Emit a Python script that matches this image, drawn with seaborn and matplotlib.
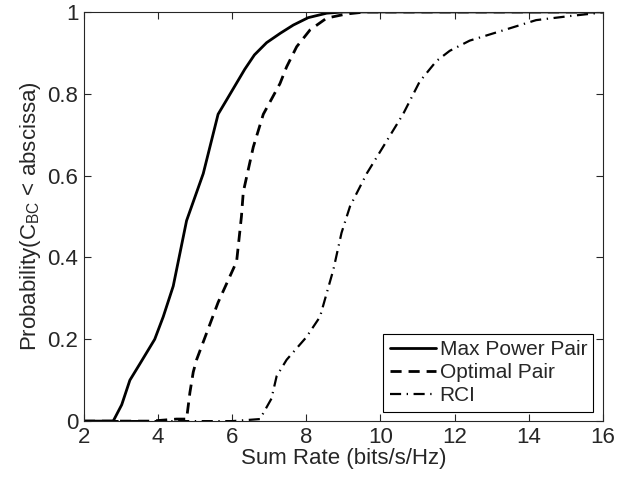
import numpy as np
import pandas as pd
import seaborn as sns
import matplotlib.pyplot as plt

# CDF points
max_x = [2.0, 2.79, 3.02, 3.24, 3.51, 3.91, 4.14, 4.41, 4.77, 5.22, 5.62, 5.85, 6.34, 6.6, 6.93, 7.3, 7.65, 8.05, 8.55, 9.0, 16.0]
max_y = [0.0, 0.0, 0.04, 0.10, 0.14, 0.20, 0.255, 0.33, 0.49, 0.605, 0.75, 0.785, 0.86, 0.895, 0.925, 0.948, 0.968, 0.986, 0.997, 1.0, 1.0]

opt_x = [2.0, 3.8, 4.5, 4.77, 4.86, 4.95, 5.04, 5.62, 6.12, 6.25, 6.30, 6.57, 6.84, 7.29, 7.47, 7.74, 8.1, 8.55, 9.08, 9.6, 16.0]
opt_y = [0.0, 0.0, 0.005, 0.005, 0.07, 0.12, 0.15, 0.29, 0.39, 0.50, 0.56, 0.67, 0.75, 0.825, 0.866, 0.915, 0.956, 0.985, 0.995, 1.0, 1.0]

rci_x = [2.0, 6.0, 6.75, 7.06, 7.2, 7.47, 8.0, 8.37, 8.73, 8.95, 9.18, 9.63, 10.07, 10.61, 11.06, 11.51, 11.87, 12.41, 13.31, 14.2, 15.11, 15.92, 16.0]
rci_y = [0.0, 0.0, 0.005, 0.055, 0.11, 0.15, 0.205, 0.255, 0.37, 0.46, 0.525, 0.605, 0.67, 0.75, 0.83, 0.88, 0.905, 0.93, 0.955, 0.98, 0.99, 0.998, 1.0]

labels = ["Max Power Pair", "Optimal Pair", "RCI"]

sns.set_style("ticks")
plt.rcParams['font.family'] = ['Liberation Sans', 'DejaVu Sans']
plt.rcParams['mathtext.fontset'] = 'custom'
plt.rcParams['mathtext.rm'] = 'Liberation Sans'
plt.rcParams['mathtext.it'] = 'Liberation Sans'

fig = plt.figure(figsize=(6.17, 4.78), dpi=100)
ax = fig.add_axes([0.136, 0.119, 0.841, 0.856])

sns.lineplot(x=max_x, y=max_y, ax=ax, color='black', lw=2, label=labels[0])
sns.lineplot(x=opt_x, y=opt_y, ax=ax, color='black', lw=2, dashes=(4, 2.5), label=labels[1])
sns.lineplot(x=rci_x, y=rci_y, ax=ax, color='black', lw=1.6, dashes=(5, 2.5, 0.6, 2.5), label=labels[2])

ax.set_xlim(2, 16)
ax.set_ylim(0, 1)
ax.set_xticks(np.arange(2, 17, 2))
ax.set_yticks([0, 0.2, 0.4, 0.6, 0.8, 1])
ax.set_yticklabels(["0", "0.2", "0.4", "0.6", "0.8", "1"])
ax.tick_params(direction='in', top=True, right=True, labelsize=16, length=5, width=0.8, pad=4)
for s in ax.spines.values():
    s.set_visible(True)
    s.set_linewidth(0.8)

ax.set_xlabel("Sum Rate (bits/s/Hz)", fontsize=16, labelpad=0)
ax.set_ylabel(r"Probability(C$_{\mathrm{BC}}$ < abscissa)", fontsize=16, labelpad=3)

leg = ax.legend(loc='lower right', fontsize=15, frameon=True, fancybox=False,
                edgecolor='black', framealpha=1, handlelength=2.2, handletextpad=0.2,
                borderpad=0.3, labelspacing=0.2, borderaxespad=0.45)
leg.get_frame().set_linewidth(0.8)

fig.savefig("out.png", dpi=100)
